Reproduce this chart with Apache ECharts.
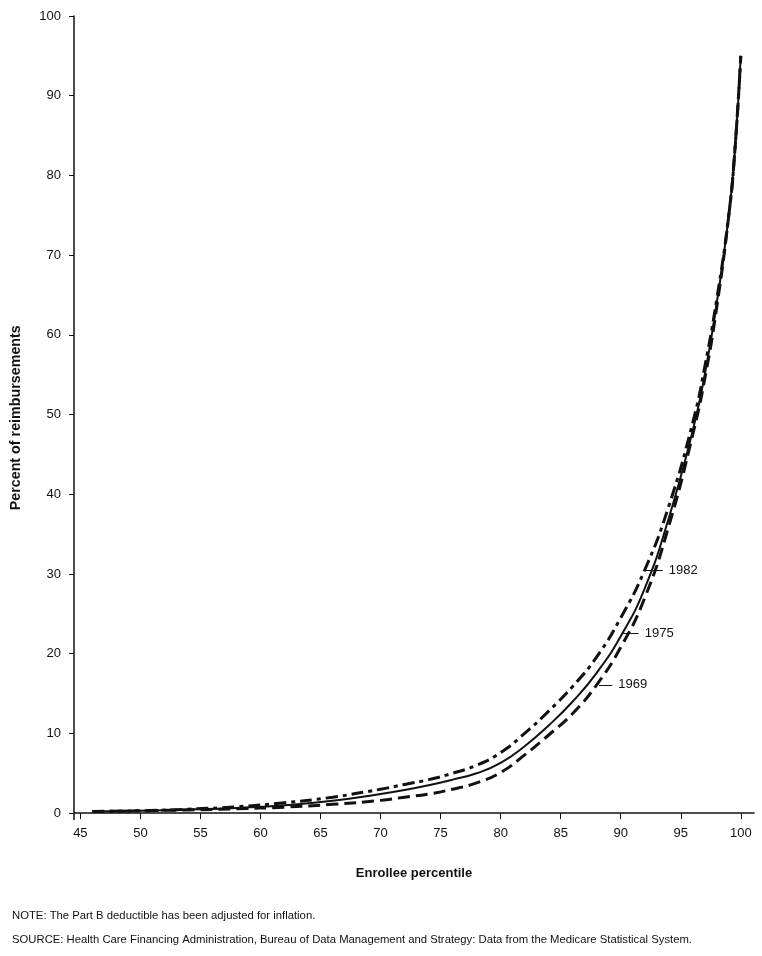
<!DOCTYPE html>
<html>
<head>
<meta charset="utf-8">
<script src="https://cdn.jsdelivr.net/npm/echarts@6/dist/echarts.min.js"></script>
<style>
  html, body { margin: 0; padding: 0; background: #fff; }
  #chart { width: 762px; height: 956px; }
</style>
</head>
<body>
<div id="chart"></div>
<script>
// enrollee percentile (x) and percent of reimbursements (y) per year
var percentiles = [46, 50, 54, 58, 62, 66, 70, 72, 74, 76, 78, 80, 82, 84, 86, 88, 90, 92, 94, 96, 97, 98, 99, 99.5, 100];
var y1982 = [0.2, 0.3, 0.5, 0.8, 1.3, 2.0, 3.0, 3.6, 4.2, 5.0, 6.0, 7.6, 10.0, 12.8, 15.9, 19.6, 24.5, 30.5, 38.5, 49.0, 56.0, 64.5, 75.0, 83.0, 95.0];
var y1975 = [0.2, 0.3, 0.45, 0.65, 1.0, 1.55, 2.4, 2.9, 3.5, 4.2, 5.0, 6.3, 8.4, 11.0, 14.0, 17.6, 22.2, 28.2, 37.0, 48.0, 55.0, 64.0, 75.0, 83.0, 95.0];
var y1969 = [0.2, 0.3, 0.4, 0.55, 0.75, 1.1, 1.6, 2.0, 2.4, 3.0, 3.8, 5.1, 7.3, 9.8, 12.5, 16.1, 20.8, 27.0, 36.0, 47.5, 54.5, 63.5, 75.0, 83.0, 95.0];

var xTicks = [45, 50, 55, 60, 65, 70, 75, 80, 85, 90, 95, 100];
var yTicks = [0, 10, 20, 30, 40, 50, 60, 70, 80, 90, 100];

// leader lines for the year labels: [label, fromX, toX, y]
var leaders = [
    ['1982', 92.0, 93.5, 30.5],
    ['1975', 90.2, 91.5, 22.6],
    ['1969', 88.2, 89.3, 16.1]
];

function pairs(ys) {
    return percentiles.map(function (p, i) { return [p, ys[i]]; });
}

var ink = '#111';
var font = "'Liberation Sans Narrow', 'Liberation Sans', Arial, sans-serif";

var chart = echarts.init(document.getElementById('chart'));

var leaderLines = leaders.map(function (l) {
    return [
        {coord: [l[1], l[3]]},
        {coord: [l[2], l[3]], name: l[0]}
    ];
});

var option = {
    animation: false,
    grid: {left: 74, right: 8, top: 16, bottom: 136.5, outerBoundsMode: 'none'},
    xAxis: {
        type: 'value',
        min: 44.47,
        max: 101.1,
        name: 'Enrollee percentile',
        nameLocation: 'middle',
        nameGap: 47,
        nameTextStyle: {color: ink, fontFamily: font, fontWeight: 'bold', fontSize: 13},
        axisLine: {lineStyle: {color: ink, width: 1.5}},
        axisTick: {show: true, length: 6, customValues: xTicks, lineStyle: {color: ink}},
        axisLabel: {customValues: xTicks, color: ink, fontFamily: font, fontSize: 13, margin: 7},
        splitLine: {show: false}
    },
    yAxis: {
        type: 'value',
        min: -0.8,
        max: 100,
        name: 'Percent of reimbursements',
        nameLocation: 'middle',
        nameGap: 51,
        nameTextStyle: {color: ink, fontFamily: font, fontWeight: 'bold', fontSize: 14.3},
        axisLine: {show: true, lineStyle: {color: ink, width: 1.5}},
        axisTick: {show: true, length: 5, customValues: yTicks, lineStyle: {color: ink}},
        axisLabel: {customValues: yTicks, color: ink, fontFamily: font, fontSize: 13, margin: 13},
        splitLine: {show: false}
    },
    series: [
        {
            name: '1982',
            type: 'line',
            smooth: true,
            symbol: 'none',
            data: pairs(y1982),
            lineStyle: {color: ink, width: 3, type: [12, 5, 4, 5]},
            markLine: {
                silent: true,
                symbol: 'none',
                lineStyle: {color: ink, width: 1, type: 'solid'},
                label: {
                    show: true,
                    position: 'end',
                    formatter: '{b}',
                    color: ink,
                    fontFamily: font,
                    fontSize: 13,
                    distance: 6
                },
                data: leaderLines
            }
        },
        {
            name: '1975',
            type: 'line',
            smooth: true,
            symbol: 'none',
            data: pairs(y1975),
            lineStyle: {color: ink, width: 2, type: 'solid'}
        },
        {
            name: '1969',
            type: 'line',
            smooth: true,
            symbol: 'none',
            data: pairs(y1969),
            lineStyle: {color: ink, width: 3, type: [12, 6]}
        }
    ],
    graphic: [
        {
            type: 'text',
            left: 12,
            top: 910,
            style: {text: 'NOTE: The Part B deductible has been adjusted for inflation.', fill: ink, font: '11.3px ' + font}
        },
        {
            type: 'text',
            left: 12,
            top: 934,
            style: {text: 'SOURCE: Health Care Financing Administration, Bureau of Data Management and Strategy: Data from the Medicare Statistical System.', fill: ink, font: '11.3px ' + font}
        }
    ]
};

chart.setOption(option);
</script>
</body>
</html>
